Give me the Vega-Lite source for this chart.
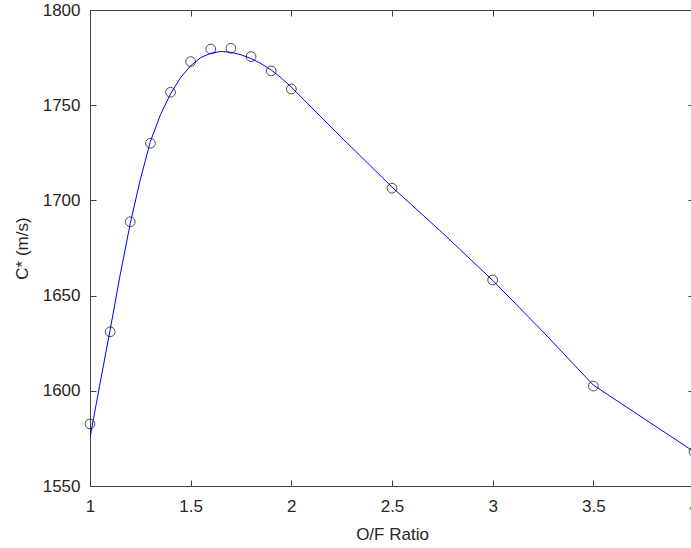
{
  "$schema": "https://vega.github.io/schema/vega-lite/v6.json",
  "autosize": "none",
  "width": 604,
  "height": 476,
  "padding": {"left": 90, "top": 10, "right": 0, "bottom": 62},
  "background": "white",
  "config": {
    "view": {"stroke": "#404040", "strokeWidth": 1},
    "axis": {
      "domainColor": "#404040",
      "tickColor": "#404040",
      "labelFont": "Liberation Sans",
      "titleFont": "Liberation Sans",
      "labelFontSize": 17,
      "titleFontSize": 17,
      "titleFontWeight": "normal",
      "labelColor": "#262626",
      "titleColor": "#262626",
      "grid": false,
      "tickSize": -6,
      "tickWidth": 1,
      "labelFlush": false,
      "labelOverlap": false
    }
  },
  "datasets": {
    "fit": [
      {"of": 1.0, "c": 1575.5},
      {"of": 1.05, "c": 1604},
      {"of": 1.1, "c": 1632},
      {"of": 1.15, "c": 1661},
      {"of": 1.2, "c": 1688},
      {"of": 1.25, "c": 1711},
      {"of": 1.3, "c": 1731},
      {"of": 1.35, "c": 1745},
      {"of": 1.4, "c": 1756},
      {"of": 1.45, "c": 1764.5},
      {"of": 1.5, "c": 1770.7},
      {"of": 1.55, "c": 1775},
      {"of": 1.6, "c": 1777.3},
      {"of": 1.65, "c": 1778.2},
      {"of": 1.7, "c": 1777.8},
      {"of": 1.75, "c": 1776.5},
      {"of": 1.8, "c": 1774.5},
      {"of": 1.85, "c": 1771.8},
      {"of": 1.9, "c": 1768.5},
      {"of": 1.95, "c": 1764.3},
      {"of": 2.0, "c": 1759.5},
      {"of": 2.25, "c": 1733},
      {"of": 2.5, "c": 1707},
      {"of": 2.75, "c": 1683},
      {"of": 3.0, "c": 1658},
      {"of": 3.25, "c": 1631},
      {"of": 3.5, "c": 1603},
      {"of": 3.75, "c": 1585.5},
      {"of": 4.0, "c": 1568}
    ],
    "obs": [
      {"of": 1.0, "c": 1582.6},
      {"of": 1.1, "c": 1631},
      {"of": 1.2, "c": 1688.8},
      {"of": 1.3, "c": 1730},
      {"of": 1.4, "c": 1756.8},
      {"of": 1.5, "c": 1772.9},
      {"of": 1.6, "c": 1779.5},
      {"of": 1.7, "c": 1779.9},
      {"of": 1.8, "c": 1775.5},
      {"of": 1.9, "c": 1768},
      {"of": 2.0, "c": 1758.5},
      {"of": 2.5, "c": 1706.4},
      {"of": 3.0, "c": 1658.2},
      {"of": 3.5, "c": 1602.5},
      {"of": 4.0, "c": 1568}
    ]
  },
  "layer": [
    {
      "data": {"name": "fit"},
      "mark": {"type": "line", "color": "#0000ff", "strokeWidth": 1, "clip": true},
      "encoding": {
        "x": {"field": "of", "type": "quantitative", "scale": {"domain": [1, 4], "nice": false},
          "axis": {"title": "O/F Ratio", "format": "~g", "values": [1, 1.5, 2, 2.5, 3, 3.5, 4], "labelPadding": 18, "titlePadding": 12}},
        "y": {"field": "c", "type": "quantitative", "scale": {"domain": [1550, 1800], "nice": false, "zero": false},
          "axis": {"title": "C* (m/s)", "format": "d", "values": [1550, 1600, 1650, 1700, 1750, 1800], "labelPadding": 16, "titlePadding": 11}}
      }
    },
    {
      "data": {"name": "obs"},
      "mark": {"type": "point", "shape": "circle", "filled": false, "color": "#000000", "size": 95, "strokeWidth": 1},
      "encoding": {
        "x": {"field": "of", "type": "quantitative", "axis": {"orient": "top", "labels": false, "title": null, "domain": false, "values": [1, 1.5, 2, 2.5, 3, 3.5, 4]}},
        "y": {"field": "c", "type": "quantitative", "axis": {"orient": "right", "labels": false, "title": null, "domain": false, "values": [1550, 1600, 1650, 1700, 1750, 1800]}}
      }
    }
  ],
  "resolve": {"axis": {"x": "independent", "y": "independent"}}
}
